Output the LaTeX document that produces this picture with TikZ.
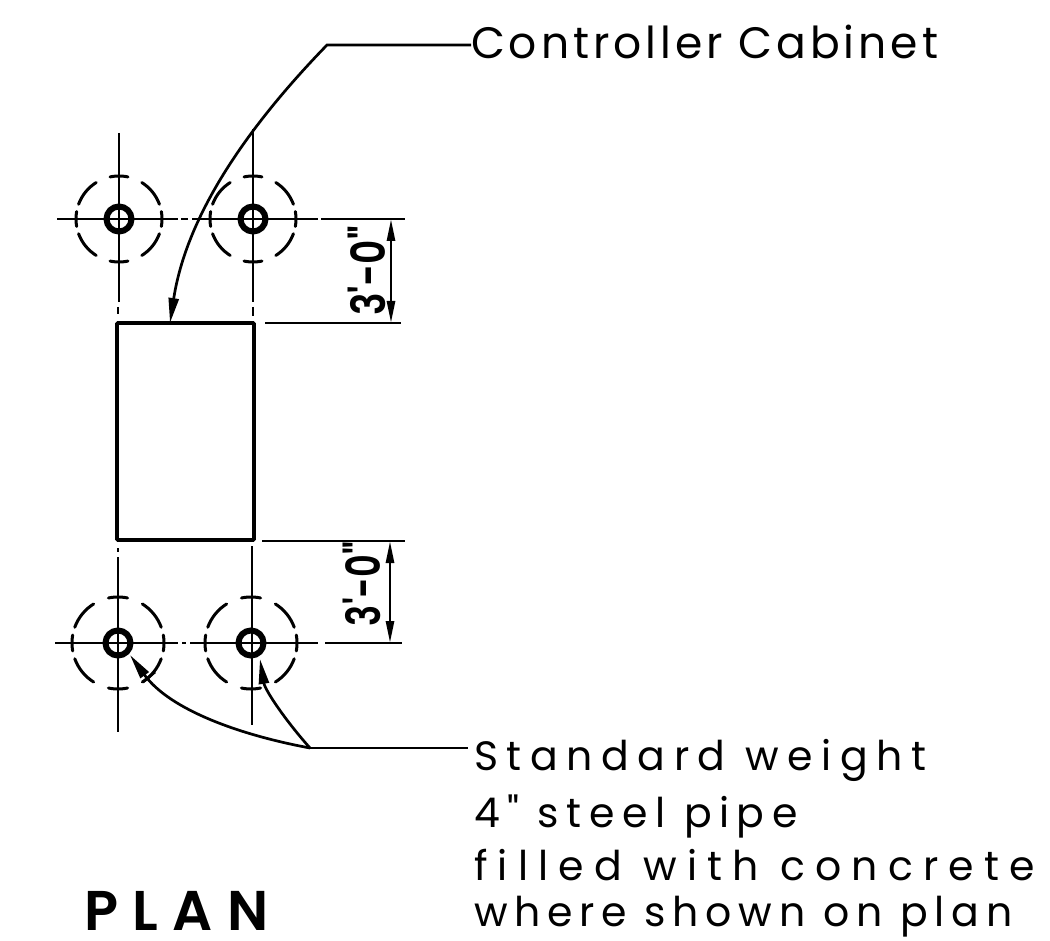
\documentclass[tikz,border=0pt]{standalone}
\usepackage{fontspec}
\setmainfont{Poppins}
\newfontfamily\lblfont[LetterSpace=9]{Poppins}
\newfontfamily\lblA[LetterSpace=21]{Poppins}
\newfontfamily\lblB[LetterSpace=18.5]{Poppins}
\newfontfamily\lblC[LetterSpace=25]{Poppins}
\newfontfamily\lblD[LetterSpace=16.5]{Poppins}
\newfontfamily\planfont[LetterSpace=26]{Poppins SemiBold}
\newfontfamily\dimfont{Poppins SemiBold}
\usetikzlibrary{arrows.meta}
\tikzset{
  every node/.style={inner sep=0pt,outer sep=0pt},
  centerline/.style={line width=2.7pt,black},
  pipe/.style={circle,draw=black,line width=6pt,minimum size=25pt},
  dashring/.style={line width=3pt,black,line cap=round},
  cabinet/.style={draw=black,line width=3.6pt,rounded corners=1pt},
  leader/.style={line width=2.7pt,black},
  tipped/.style={line width=2.7pt,black,-{Stealth[inset=0pt,length=25pt,width=10pt]}},
  dim/.style={line width=2.7pt,black,{Stealth[inset=0pt,length=22pt,width=8pt]}-{Stealth[inset=0pt,length=22pt,width=8pt]}},
  lbl/.style={anchor=base west,font=\fontsize{41}{41}\selectfont},
  dimlbl/.style={rotate=90,font=\dimfont\fontsize{47}{47}\selectfont},
  plantitle/.style={anchor=base west,font=\planfont\fontsize{56}{56}\selectfont}
}
\newcommand{\dashcircle}[3]{%
  \foreach \a/\b in {78/102,122/160,170/190,200/238,258/282,302/340,350/370,20/58}
    \draw[dashring] plot[domain=\a:\b,samples=9,smooth] ({#1+#3*cos(\x)},{#2+#3*sin(\x)});
}
\begin{document}
\begin{tikzpicture}[x=1pt,y=-1pt]
\useasboundingbox (0,0) rectangle (1050,941);
% reference coordinates
\coordinate (tl) at (119,219);
\coordinate (tr) at (253,219);
\coordinate (bl) at (118,643);
\coordinate (br) at (251,643);
\coordinate (capA) at (117,323);
\coordinate (capB) at (254,540);
\coordinate (c1) at (327,45);
\coordinate (c2) at (310,748);
\coordinate (c1tip) at (170,323);
\coordinate (p1) at (130,655);
\coordinate (p2) at (260,659);
% centre lines
\draw[centerline] (57,219) -- (178,219) (181,219) -- (188,219) (192,219) -- (318,219);
\draw[centerline] (119,133) -- (119,302) (118,307) -- (118,314);
\draw[centerline] (253,129) -- (253,302) (253,307) -- (253,316);
\draw[centerline] (55,643) -- (178,643) (182,643) -- (186,643) (190,643) -- (318,643);
\draw[centerline] (118,548) -- (118,552) (118,557) -- (118,732);
\draw[centerline] (252,546) -- (252,725);
% extension lines
\draw[centerline] (321,219) -- (405,219);
\draw[centerline] (265,323) -- (401,323);
\draw[centerline] (262,541) -- (405,541);
\draw[centerline] (325,643) -- (402,643);
% dashed rings
\dashcircle{119}{219}{43}
\dashcircle{253}{219}{43}
\dashcircle{118}{643}{46}
\dashcircle{251}{643}{46}
% pipes
\node[pipe] (pipeTL) at (tl) {};
\node[pipe] (pipeTR) at (tr) {};
\node[pipe] (pipeBL) at (bl) {};
\node[pipe] (pipeBR) at (br) {};
% cabinet
\draw[cabinet] (capA) rectangle (capB);
% dimensions
\coordinate (d1a) at (391,219); \coordinate (d1b) at (391,323);
\coordinate (d2a) at (390,541); \coordinate (d2b) at (390,643);
\draw[dim] (d1a) -- (d1b);
\draw[dim] (d2a) -- (d2b);
\node[dimlbl] (dimT) at (367,271) {\scalebox{.8}[1]{3'-0"}};
\node[dimlbl] (dimB) at (362,584) {\scalebox{.75}[1]{3'-0"}};
% labels
\node[anchor=base west,font=\lblfont\fontsize{44}{44}\selectfont] (lc) at (471,59) {Controller Cabinet};
\node[lbl,font=\lblA\fontsize{41}{41}\selectfont] (l1) at (474,770) {Standard weight};
\node[lbl,font=\lblB\fontsize{41}{41}\selectfont] (l2) at (474,827) {4" steel pipe};
\node[lbl,font=\lblC\fontsize{41}{41}\selectfont] (l3) at (474,880) {filled with concrete};
\node[lbl,font=\lblD\fontsize{41}{41}\selectfont] (l4) at (474,926) {where shown on plan};
\node[plantitle] (plan) at (84,930) {PLAN};
% leaders
\draw[tipped] (lc.base west |- 0,45) -- (c1) .. controls (262,112) and (188,205) .. (c1tip);
\draw[leader] (c2) -- (468,748);
\draw[tipped] (c2) .. controls (240,735) and (170,710) .. (p1);
\draw[tipped] (c2) .. controls (285,720) and (265,690) .. (p2);
\draw[leader] (143,682) -- (155,672);
\end{tikzpicture}
\end{document}
